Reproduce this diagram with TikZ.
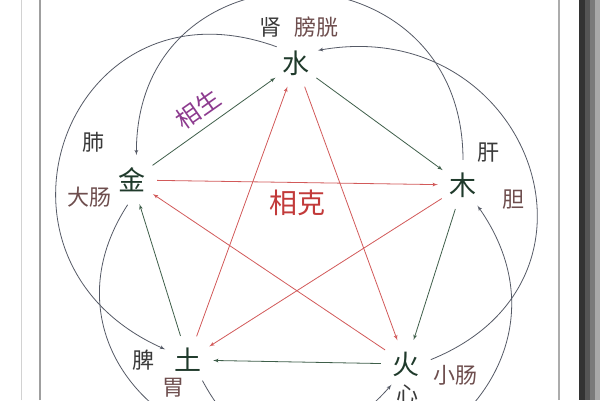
\documentclass[tikz,border=0pt]{standalone}
\usepackage{fontspec}
\newfontfamily\cjk{Noto Sans CJK SC}
\usepackage{tikz}
\usetikzlibrary{arrows}
\definecolor{elemcol}{HTML}{1F3A2B}
\definecolor{zangcol}{HTML}{3A3A3A}
\definecolor{fucol}{HTML}{6E4E4E}
\definecolor{shengcol}{HTML}{3F5F4A}
\definecolor{kecol}{HTML}{D25A5A}
\definecolor{wucol}{HTML}{555A66}
\definecolor{shengtext}{HTML}{8D3B8F}
\definecolor{ketext}{HTML}{C23A3A}
\definecolor{shadowa}{HTML}{333333}
\definecolor{shadowb}{HTML}{555555}
\definecolor{shadowc}{HTML}{7A7A7A}
\definecolor{shadowd}{HTML}{A8A8A8}

\begin{document}
\begin{tikzpicture}
                [
                x=1pt,y=1pt,
                element/.style={circle,minimum size=50pt,inner sep=0pt,text=elemcol,font=\cjk\fontsize{27}{30}\selectfont},
                zang/.style={inner sep=0pt,text=zangcol,font=\cjk\fontsize{22}{26}\selectfont},
                fu/.style={zang,text=fucol},
                sheng/.style={->,> = latex',draw=shengcol,line width=0.8pt},
                ke/.style={->,> = latex',draw=kecol,line width=0.8pt},
                wu/.style={->,> = latex',draw=wucol,line width=0.8pt}
                ]
            \useasboundingbox (0,0) rectangle (600,400);
            \clip (0,0) rectangle (600,400);
            \fill[white] (0,0) rectangle (600,400);
            % frame and shadow
            \draw[gray!35,line width=1pt] (21,0) -- (21,400);
            \draw[gray!75,line width=1.2pt] (40,0) -- (40,400);
            \draw[gray!65,line width=1.5pt] (559,0) -- (559,400);
            \fill[shadowa] (579,0) rectangle (585,400);
            \fill[shadowb] (585,0) rectangle (590,400);
            \fill[shadowc] (590,0) rectangle (595,400);
            \fill[shadowd] (595,0) rectangle (600,400);
            % elements
            \node[element] (shui) at (296,337) {水};
            \node[element] (jin) at (132,220) {金};
            \node[element] (mu) at (463,215) {木};
            \node[element] (tu) at (188,40) {土};
            \node[element] (huo) at (406,36) {火};
            % organs
            \node[zang] (shen) at (270,373) {肾};
            \node[fu] (pangguang) at (316,373) {膀胱};
            \node[zang] (fei) at (93,258) {肺};
            \node[fu] (dachang) at (89,203) {大肠};
            \node[zang] (gan) at (488,247) {肝};
            \node[fu] (dan) at (513,200) {胆};
            \node[zang] (pi) at (143,40) {脾};
            \node[fu] (wei) at (173,12) {胃};
            \node[zang] (xin) at (407,6) {心};
            \node[fu] (xiaochang) at (455,25) {小肠};
            \node[inner sep=0pt,rotate=35,text=shengtext,font=\cjk\fontsize{24}{28}\selectfont] (xiangsheng) at (198,291) {相生};
            \node[inner sep=0pt,text=ketext,font=\cjk\fontsize{28}{32}\selectfont] (xiangke) at (297,197) {相克};
            % sheng cycle
            \draw[sheng] (jin) -- (shui);
            \draw[sheng] (shui) -- (mu);
            \draw[sheng] (mu) -- (huo);
            \draw[sheng] (huo) -- (tu);
            \draw[sheng] (tu) -- (jin);
            % ke star
            \draw[ke] (jin) -- (mu);
            \draw[ke] (mu) -- (tu);
            \draw[ke] (tu) -- (shui);
            \draw[ke] (shui) -- (huo);
            \draw[ke] (huo) -- (jin);
            % outer arcs
            \draw[wu] (mu.90) .. controls +(90:220) and +(90:220) .. (jin.80);
            \draw[wu] (shui.140) .. controls +(160:222) and +(156:222) .. (tu.155);
            \draw[wu] (huo.10) .. controls +(22:213) and +(10:213) .. (shui.30);
            \draw[wu] (jin.260) .. controls +(237:203) and +(229:203) .. (huo.235);
            \draw[wu] (tu.305) .. controls +(298:231) and +(305:231) .. (mu.305);
            \end{tikzpicture}
\end{document}
